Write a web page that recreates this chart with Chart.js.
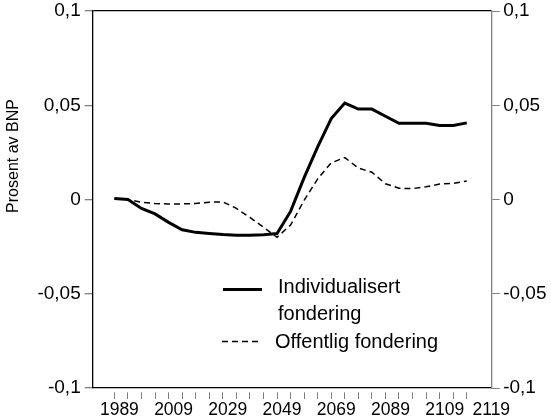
<!DOCTYPE html>
<html>
<head>
<meta charset="utf-8">
<script src="https://cdn.jsdelivr.net/npm/chart.js@4/dist/chart.umd.min.js"></script>
<style>
  html, body { margin: 0; padding: 0; background: #fff; }
  #wrap { width: 551px; height: 420px; position: relative; }
</style>
</head>
<body>
<div id="wrap"><canvas id="pensjonChart"></canvas></div>
<script>
// Årstall (hvert 5. år) og verdier i prosent av BNP
const years = [1989, 1994, 1999, 2004, 2009, 2014, 2019, 2024, 2029, 2034, 2039, 2044, 2049,
               2054, 2059, 2064, 2069, 2074, 2079, 2084, 2089, 2094, 2099, 2104, 2109, 2114, 2119];
const individualisert = [0.0005, 0, -0.0047, -0.0076, -0.0121, -0.016, -0.0174, -0.018, -0.0186,
                         -0.019, -0.019, -0.0187, -0.018, -0.0063, 0.0116, 0.028, 0.043, 0.0512,
                         0.048, 0.048, 0.0442, 0.0405, 0.0405, 0.0405, 0.0393, 0.0393, 0.0407];
const offentlig = [0.0005, 0, -0.0014, -0.0021, -0.0023, -0.0023, -0.0021, -0.0014, -0.0012,
                   -0.0047, -0.0095, -0.0147, -0.02, -0.0135, -0.0004, 0.011, 0.0195, 0.0223,
                   0.0167, 0.0145, 0.0084, 0.006, 0.0058, 0.0068, 0.0082, 0.0086, 0.0098];
const xLabels = ['1989', '2009', '2029', '2049', '2069', '2089', '2109', '2119'];
const xLabelYears = [1989, 2009, 2029, 2049, 2069, 2089, 2109, 2119];
const yTicks = [-0.1, -0.05, 0, 0.05, 0.1];
const yTitle = 'Prosent av BNP';
const legendLines = [['Individualisert', 'fondering'], ['Offentlig fondering']];

const FONT = "'Liberation Sans', Arial, Helvetica, sans-serif";
const X_MIN = 1981, X_MAX = 2128.2;

(function() {
    const tickColor = '#808080';
    const yFmt = v => String(v).replace('.', ',');

    // y-aksetittel, plassert litt over midten som i originalen
    const titlePlugin = {
        id: 'yTitle',
        afterDraw(chart) {
            const ctx = chart.ctx;
            ctx.save();
            ctx.translate(14, 156);
            ctx.rotate(-Math.PI / 2);
            ctx.font = '16px ' + FONT;
            ctx.fillStyle = '#000';
            ctx.textAlign = 'center';
            ctx.textBaseline = 'middle';
            ctx.fillText(yTitle, 0, 0);
            ctx.restore();
        }
    };

    // tegnforklaring inne i plottet
    const legendPlugin = {
        id: 'innerLegend',
        afterDraw(chart) {
            const ctx = chart.ctx;
            ctx.save();
            ctx.font = '20px ' + FONT;
            ctx.fillStyle = '#000';
            ctx.textBaseline = 'alphabetic';
            // heltrukken
            ctx.strokeStyle = '#000';
            ctx.lineWidth = 3;
            ctx.beginPath(); ctx.moveTo(223, 289.5); ctx.lineTo(262, 289.5); ctx.stroke();
            ctx.fillText(legendLines[0][0], 278, 293);
            ctx.fillText(legendLines[0][1], 278, 320);
            // stiplet
            ctx.lineWidth = 1.5;
            ctx.setLineDash([6, 4]);
            ctx.beginPath(); ctx.moveTo(222, 341.5); ctx.lineTo(260, 341.5); ctx.stroke();
            ctx.setLineDash([]);
            ctx.fillText(legendLines[1][0], 275, 348);
            ctx.restore();
        }
    };

    const ctx = document.getElementById('pensjonChart');
    new Chart(ctx, {
        type: 'line',
        data: {
            datasets: [{
                label: 'Individualisert fondering',
                data: years.map((yr, i) => ({ x: yr, y: individualisert[i] })),
                borderColor: '#000',
                borderWidth: 3,
                pointRadius: 0,
                tension: 0,
                xAxisID: 'x', yAxisID: 'y'
            }, {
                label: 'Offentlig fondering',
                data: years.map((yr, i) => ({ x: yr, y: offentlig[i] })),
                borderColor: '#000',
                borderWidth: 1.5,
                borderDash: [6, 4],
                pointRadius: 0,
                tension: 0,
                xAxisID: 'x', yAxisID: 'y'
            }]
        },
        options: {
            responsive: true,
            maintainAspectRatio: false,
            animation: false,
            layout: { padding: { top: 7.3, left: 0, right: 0, bottom: 0 } },
            plugins: { legend: { display: false }, tooltip: { enabled: false } },
            scales: {
                x: {
                    type: 'linear', position: 'bottom', weight: 1,
                    min: X_MIN, max: X_MAX,
                    afterBuildTicks: s => { s.ticks = years.map(v => ({ value: v })); },
                    ticks: { display: false },
                    grid: { drawOnChartArea: false, tickLength: 11, tickColor: tickColor, tickWidth: 1, tickBorderDash: [0, 4, 7, 30] },
                    border: { color: '#000', width: 1.3 },
                    afterFit: s => { s.height = 11; }
                },
                xl: {
                    type: 'linear', position: 'bottom', weight: 2,
                    min: X_MIN, max: X_MAX,
                    afterBuildTicks: s => {
                        s.ticks = xLabelYears.map((v, i) => ({ value: i === xLabelYears.length - 1 ? X_MAX - 2 : v }));
                    },
                    grid: { display: false, drawTicks: false },
                    border: { display: false },
                    ticks: {
                        autoSkip: false, maxRotation: 0, labelOffset: 5, padding: 1,
                        color: '#000', font: { family: FONT, size: 17.5 },
                        callback: (v, i) => xLabels[i]
                    },
                    afterFit: s => { s.height = 21; }
                },
                y: {
                    position: 'left', min: -0.1, max: 0.1,
                    afterBuildTicks: s => { s.ticks = yTicks.map(v => ({ value: v })); },
                    grid: {
                        drawOnChartArea: true, tickLength: 8, tickColor: tickColor,
                        color: c => (c.tick && c.tick.value === 0.1) ? '#000' : 'rgba(0,0,0,0)',
                        lineWidth: 1.3
                    },
                    border: { color: '#000', width: 1.3 },
                    ticks: { padding: 4, color: '#000', font: { family: FONT, size: 19, lineHeight: 0.75 }, callback: yFmt },
                    afterFit: s => { s.width = 92.7; }
                },
                y2: {
                    position: 'right', min: -0.1, max: 0.1,
                    afterBuildTicks: s => { s.ticks = yTicks.map(v => ({ value: v })); },
                    grid: { drawOnChartArea: false, tickLength: 8, tickColor: tickColor },
                    border: { color: tickColor, width: 1.3 },
                    ticks: { padding: 3.5, color: '#000', font: { family: FONT, size: 19, lineHeight: 0.75 }, callback: yFmt },
                    afterFit: s => { s.width = 59.3; }
                }
            }
        },
        plugins: [titlePlugin, legendPlugin]
    });
})();
</script>
</body>
</html>
